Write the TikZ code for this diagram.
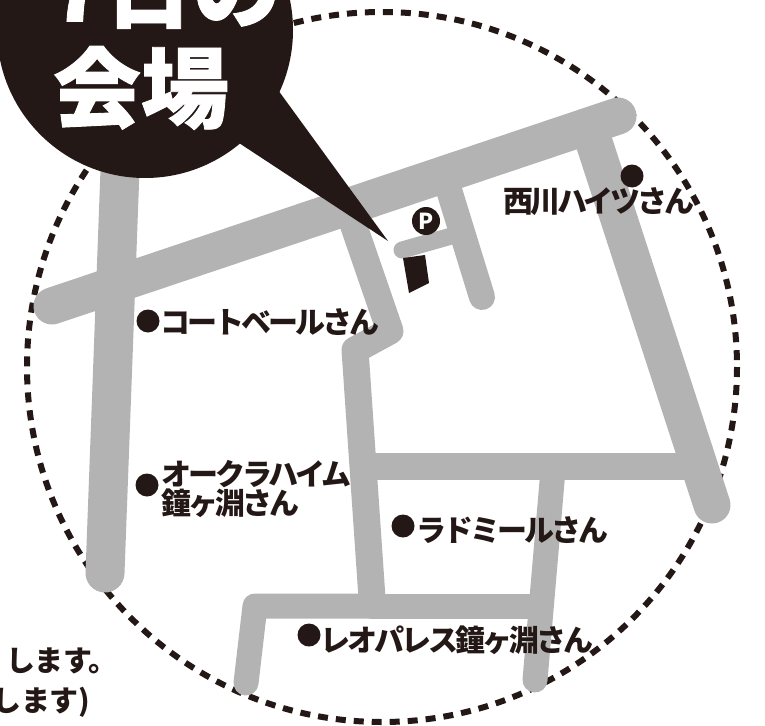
\documentclass[tikz,border=0pt]{standalone}
\usepackage{fontspec}
\newfontfamily\cjk{Noto Sans CJK JP}
\newfontfamily\cjktight{Noto Sans CJK JP}[LetterSpace=-10]
\newfontfamily\cjknote{Noto Sans CJK JP}[LetterSpace=-2]
\newfontfamily\cjkheavy{Noto Sans CJK JP}[RawFeature={embolden=1.0}]
\definecolor{ink}{HTML}{231815}
\definecolor{road}{HTML}{B3B3B3}
\tikzset{
  roadline/.style={draw=road,line cap=round,line join=round},
  rim/.style={draw=ink,line width=6pt,dash pattern=on 10pt off 8pt},
  place/.style={font=\cjktight\bfseries\fontsize{30}{29}\selectfont,text=ink,inner sep=0pt,anchor=west,align=left},
  spot/.style={circle,fill=ink,inner sep=0pt,minimum size=23pt},
  headline/.style={font=\cjkheavy\bfseries\fontsize{88}{90}\selectfont,text=white,inner sep=0pt},
  note/.style={font=\cjknote\bfseries\fontsize{29}{30}\selectfont,text=ink,inner sep=0pt,anchor=east}
}
\begin{document}
\begin{tikzpicture}[x=1pt,y=-1pt]
\useasboundingbox (0,0) rectangle (765,725);
\clip (0,0) rectangle (765,725);
\draw[rim] (382,367) circle [radius=355];
% roads
\draw[roadline,line width=39pt] (120,170) -- (105,573);
\draw[roadline,line width=37pt] (52,306) -- (618,116);
\draw[roadline,line width=37pt] (590,130) -- (712,505);
\draw[roadline,line width=26pt] (449,190) -- (482,297);
\draw[roadline,line width=17pt] (402,250) -- (462,233);
\draw[roadline,line width=27pt] (350,215) -- (390,331) -- (355,350) -- (372,598);
\draw[roadline,line width=27pt] (372,466) -- (695,466);
\draw[roadline,line width=25pt] (553,470) -- (535,680);
\draw[roadline,line width=25pt] (372,606) -- (255,606) -- (246,683);
\draw[roadline,line width=25pt] (372,606) -- (540,606);
% building and parking
\fill[ink] (403,258) -- (425,255) -- (429,283) -- (409,293) -- cycle;
\node[circle,fill=ink,minimum size=28pt,inner sep=0pt,font=\cjk\bfseries\fontsize{22}{22}\selectfont,text=white] (parking) at (426,221) {P};
% bubble
\fill[ink] (145,30) circle [radius=148];
\fill[ink] (278,90) -- (388,241) -- (239,143) -- cycle;
\node[headline] (day) at (166,-10) {7日の};
\node[headline] (venue) at (141,88) {会場};
% places
\node[spot] (s1) at (148,321) {};
\node[place] (p1) at (160,322) {コートベールさん};
\node[spot] (s2) at (632,176) {};
\node[place] (p2) at (503,202) {西川ハイツさん};
\node[spot] (s3) at (147,485) {};
\node[place] (p3) at (161,489) {オークラハイム\\鐘ヶ淵さん};
\node[spot] (s4) at (403,526) {};
\node[place] (p4) at (416,530) {ラドミールさん};
\node[spot] (s5) at (309,635) {};
\node[place] (p5) at (320,640) {レオパレス鐘ヶ淵さん};
% notes
\node[note] (n1) at (118,661) {します。};
\node[note] (n2) at (90,702) {します)};
\end{tikzpicture}
\end{document}
